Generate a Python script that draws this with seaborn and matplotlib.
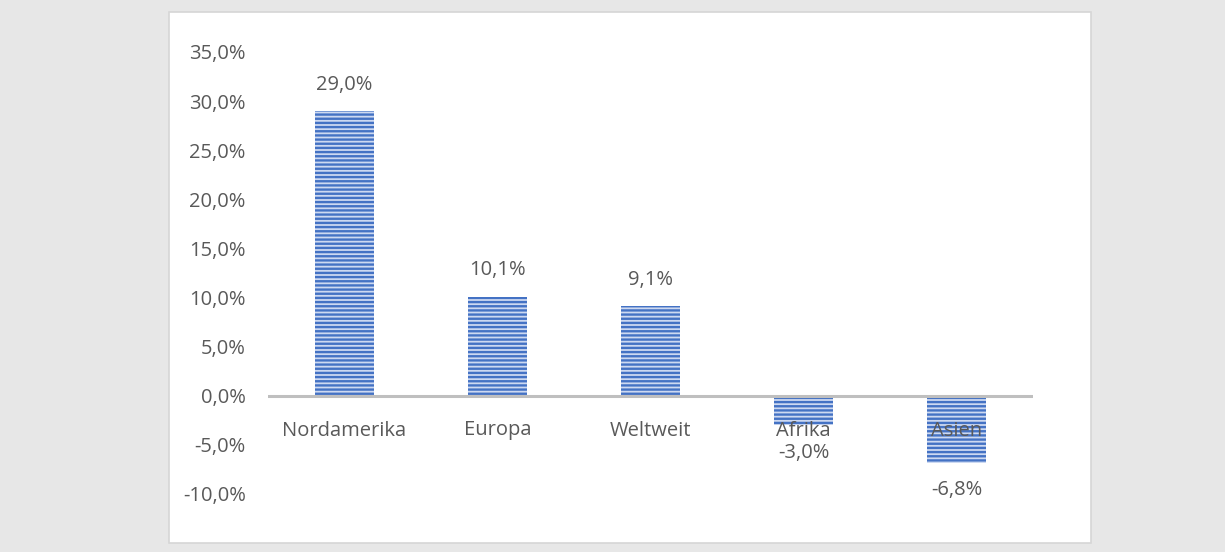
import matplotlib
matplotlib.use("Agg")
import matplotlib.pyplot as plt
from matplotlib.patches import Rectangle
import seaborn as sns
import pandas as pd

# Growth by region (percent)
regions = ["Nordamerika", "Europa", "Weltweit", "Afrika", "Asien"]
growth = [29.0, 10.1, 9.1, -3.0, -6.8]
y_ticks = [-10, -5, 0, 5, 10, 15, 20, 25, 30, 35]

TEXT = "#595959"
BAR_DARK = "#4472C4"
BAR_LIGHT = "#cdd9f1"
FS = 14.5

plt.rcParams["font.family"] = ["Open Sans", "DejaVu Sans"]
plt.rcParams["hatch.linewidth"] = 1.7


def pct(v):
    return f"{v:.1f}".replace(".", ",") + "%"


fig = plt.figure(figsize=(12.25, 5.52), dpi=100, facecolor="#e7e7e7")

# white chart panel behind the axes
panel = Rectangle((169 / 1225, 1 - 543 / 552), (1091 - 169) / 1225, (543 - 12) / 552,
                  transform=fig.transFigure, facecolor="white",
                  edgecolor="#d6d6d6", linewidth=1.2, zorder=-10)
fig.add_artist(panel)

ax = fig.add_axes([268 / 1225, 1 - 494 / 552, 765 / 1225, 442 / 552])
ax.set_facecolor("none")
ax.set_zorder(1)

df = pd.DataFrame({"Region": regions, "Wachstum": growth})
sns.barplot(data=df, x="Region", y="Wachstum", ax=ax, width=0.386,
            color=BAR_LIGHT, saturation=1, zorder=2)

for p in ax.patches:
    p.set_facecolor(BAR_LIGHT)
    p.set_edgecolor(BAR_DARK)
    p.set_hatch("----")
    p.set_linewidth(0)

ax.set_xlim(-0.5, len(regions) - 0.5)
ax.set_ylim(-10, 35)
ax.axhline(0, color="#bfbfbf", linewidth=2.2, zorder=3)

ax.set_yticks(y_ticks)
ax.set_yticklabels([pct(t) for t in y_ticks], color=TEXT, fontsize=FS)
ax.tick_params(axis="y", length=0, pad=16)
ax.set_xticks([])
ax.set_xlabel("")
ax.set_ylabel("")
for s in ax.spines.values():
    s.set_visible(False)

for i, (name, v) in enumerate(zip(regions, growth)):
    ax.annotate(name, xy=(i, 0), xytext=(0, -25), textcoords="offset points",
                ha="center", va="center", color=TEXT, fontsize=FS, zorder=4)
    off = 19 if v >= 0 else -20
    ax.annotate(pct(v), xy=(i, v), xytext=(0, off), textcoords="offset points",
                ha="center", va="center", color=TEXT, fontsize=FS, zorder=4)

fig.savefig("out.png", dpi=100, facecolor=fig.get_facecolor())
